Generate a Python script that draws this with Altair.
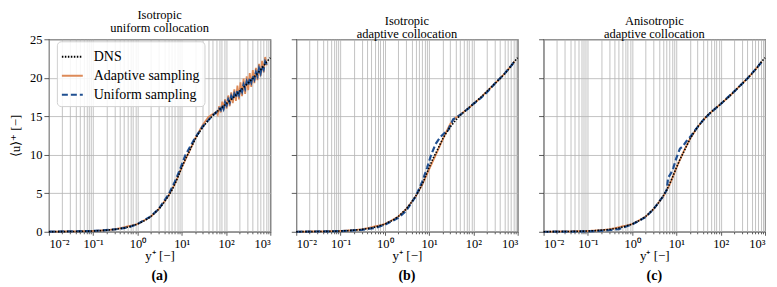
import altair as alt
import pandas as pd

SERIF = "Liberation Serif"

# ---------------- data ----------------
panels = ["a", "b", "c"]
panel_titles = [["Isotropic", "uniform collocation"],
                ["Isotropic", "adaptive collocation"],
                ["Anisotropic", "adaptive collocation"]]
panel_labels = ["(a)", "(b)", "(c)"]
series_names = ["DNS", "Adaptive sampling", "Uniform sampling"]
series_colors = ["#000000", "#dd8a58", "#1f4f91"]
series_dash = [[1.5, 1.5], [1, 0], [6, 3]]
x_major = [0.01, 0.1, 1, 10, 100, 1000]
x_major_labels = ["10⁻²", "10⁻¹", "10⁰", "10¹", "10²", "10³"]
y_ticks = [0, 5, 10, 15, 20, 25]

dns_y = [0.01, 0.015, 0.02, 0.03, 0.05, 0.07, 0.1, 0.15, 0.2, 0.3,
         0.5, 0.7, 1, 1.5, 2, 3, 4, 5, 6, 7,
         8, 10, 12, 15, 20, 25, 30, 40, 50, 70,
         100, 150, 200, 300, 400, 500, 600, 700, 800, 900, 1000]
dns_u = [0.01, 0.015, 0.02, 0.03, 0.05, 0.07, 0.1, 0.15, 0.2, 0.3,
         0.5, 0.7, 1.0, 1.49, 1.97, 2.92, 3.82, 4.65, 5.42, 6.2,
         6.95, 8.35, 9.4, 10.5, 12.0, 12.95, 13.6, 14.5, 15.1, 15.85,
         16.6, 17.5, 18.2, 19.2, 19.9, 20.5, 21.0, 21.5, 21.95, 22.3, 22.6]

# panel (a): isotropic, uniform collocation
p1_adapt_y = [0.01, 0.1, 0.3, 1, 2, 3, 5, 7, 10, 15, 20, 25, 30, 40, 50, 55,
              60, 65, 70, 76, 82, 88, 95, 103, 112, 121,
              131, 142, 154, 167, 181, 196, 212, 230, 249, 270,
              293, 317, 343, 372, 403, 437, 473, 513, 556, 602,
              652, 707, 766, 830]
p1_adapt_u = [0.01, 0.1, 0.3, 1.0, 1.97, 2.92, 4.65, 6.2, 8.35, 10.5, 12.1, 13.1, 13.9, 14.9, 15.3, 15.4,
              15.6, 15.2, 16.3, 15.5, 16.9, 15.8, 17.2, 16.0, 17.7, 16.3,
              18.1, 16.7, 18.5, 17.0, 19.0, 17.2, 19.4, 17.6, 19.9, 17.9,
              20.2, 18.4, 20.6, 18.8, 21.0, 19.3, 21.3, 19.7, 21.8, 20.2,
              22.2, 20.7, 22.7, 21.6]
p1_unif_y = [0.01, 0.1, 0.3, 0.6, 1, 2, 3, 5, 7, 9, 12, 15, 20, 25, 30, 40, 50, 60,
             70, 76, 82, 88, 95, 103, 112, 121, 131, 142,
             154, 167, 181, 196, 212, 230, 249, 270, 293, 317,
             343, 372, 403, 437, 473, 513, 556, 602, 652, 707,
             766, 830]
p1_unif_u = [0.01, 0.1, 0.3, 0.55, 1.0, 2.0, 2.95, 4.8, 6.5, 8.0, 9.9, 10.9, 12.2, 13.0, 13.7, 14.5, 15.1, 15.5,
             16.0, 15.8, 16.5, 16.0, 16.8, 16.4, 17.2, 16.8, 17.6, 17.1,
             17.9, 17.4, 18.3, 17.8, 18.7, 18.2, 19.1, 18.6, 19.5, 19.0,
             19.9, 19.4, 20.3, 19.8, 20.7, 20.2, 21.2, 20.6, 21.6, 21.1,
             22.1, 21.7]

# panel (b): isotropic, adaptive collocation
p2_adapt_y = [0.01, 0.1, 0.3, 1, 2, 3, 5, 7, 10, 15, 20, 25, 30, 35, 40, 50, 70,
              100, 150, 200, 300, 500, 700, 850]
p2_adapt_u = [0.01, 0.1, 0.3, 1.0, 1.95, 2.9, 4.6, 6.1, 8.1, 10.3, 11.9, 13.1, 14.0, 14.5, 14.8, 15.2, 15.85,
              16.6, 17.5, 18.2, 19.2, 20.5, 21.5, 22.1]
p2_unif_y = [0.01, 0.1, 0.3, 0.6, 1, 2, 3, 5, 7, 9, 11, 14, 18, 22, 27, 30, 35, 45, 60, 80,
             100, 150, 200, 300, 500, 700, 850]
p2_unif_u = [0.0, 0.08, 0.25, 0.5, 0.9, 1.8, 2.7, 4.6, 6.5, 8.3, 9.9, 11.4, 12.3, 12.8, 13.2, 13.8, 14.6, 15.0, 15.5, 16.1,
             16.6, 17.4, 18.1, 19.2, 20.5, 21.5, 22.1]

# panel (c): anisotropic, adaptive collocation
p3_adapt_y = [0.01, 0.1, 0.3, 1, 2, 3, 5, 7, 10, 15, 20, 30, 50, 70, 100, 150, 200, 300, 500, 700, 850]
p3_adapt_u = [0.01, 0.1, 0.3, 1.0, 1.95, 2.9, 4.55, 6.1, 8.3, 10.6, 12.0, 13.6, 15.1, 15.85, 16.6, 17.5, 18.2, 19.2,
              20.5, 21.5, 22.1]
p3_unif_y = [0.01, 0.1, 0.3, 0.5, 1, 2, 3, 5, 6, 6.5, 7.5, 8.5, 10, 12, 14, 17, 21, 25, 30, 40,
             60, 100, 200, 400, 700, 850]
p3_unif_u = [0.0, 0.05, 0.2, 0.35, 0.95, 1.9, 2.9, 4.6, 5.4, 7.0, 7.6, 8.3, 9.6, 10.8, 11.1, 11.8, 12.4, 13.0, 13.6, 14.5,
             15.5, 16.6, 18.2, 19.9, 21.5, 22.1]

# ---------------- table ----------------
rows = []


def add(panel, series, ys, us):
    for i, (a, b) in enumerate(zip(ys, us)):
        rows.append({"panel": panel, "series": series, "yp": a, "up": b, "ord": i})


for p in panels:
    add(p, "DNS", dns_y, dns_u)
add("a", "Adaptive sampling", p1_adapt_y, p1_adapt_u)
add("a", "Uniform sampling", p1_unif_y, p1_unif_u)
add("b", "Adaptive sampling", p2_adapt_y, p2_adapt_u)
add("b", "Uniform sampling", p2_unif_y, p2_unif_u)
add("c", "Adaptive sampling", p3_adapt_y, p3_adapt_u)
add("c", "Uniform sampling", p3_unif_y, p3_unif_u)
df = pd.DataFrame(rows)

# all log ticks (major + minor)
x_ticks = sorted(set([round(m * d, 6) for d in [0.01, 0.1, 1, 10, 100] for m in range(1, 10)] + [1000]))
label_expr = " : ".join(
    f"datum.value == {v} ? '{t}'" for v, t in zip(x_major, x_major_labels)
) + " : ''"
major_test = "indexof(" + str(x_major) + ", datum.value) >= 0"

W, H = 222, 193
strokes = {"DNS": 1.6, "Adaptive sampling": 1.8, "Uniform sampling": 2.2}
draw_order = ["Adaptive sampling", "Uniform sampling", "DNS"]


def panel_chart(i):
    p = panels[i]
    first = i == 0
    if first:
        leg = alt.Legend(orient="none", legendX=8, legendY=2, title=None,
                         symbolType="stroke", symbolSize=440, symbolStrokeWidth=2,
                         labelFont=SERIF, labelFontSize=14, labelColor="black",
                         labelOffset=10, rowPadding=-3, padding=4,
                         fillColor="rgba(255,255,255,0.85)", strokeColor="#d0d0d0",
                         cornerRadius=4)
    else:
        leg = None
    xaxis = alt.Axis(values=x_ticks, labelExpr=label_expr, labelOverlap=False, labelBound=False,
                     title="y⁺ [−]", titlePadding=0, labelPadding=2,
                     tickSize={"condition": {"test": major_test, "value": 3.5}, "value": 2})
    if first:
        yaxis = alt.Axis(values=y_ticks, title="⟨u⟩⁺ [−]", titlePadding=7, labelPadding=2)
    else:
        yaxis = alt.Axis(values=y_ticks, title=None, labels=False)
    base = alt.Chart(df).transform_filter(alt.datum.panel == p).encode(
        x=alt.X("yp:Q", scale=alt.Scale(type="log", domain=[0.01, 1000], nice=False), axis=xaxis),
        y=alt.Y("up:Q", scale=alt.Scale(domain=[0, 25], nice=False), axis=yaxis),
        color=alt.Color("series:N", scale=alt.Scale(domain=series_names, range=series_colors), legend=leg),
        strokeDash=alt.StrokeDash("series:N", scale=alt.Scale(domain=series_names, range=series_dash), legend=leg),
        order="ord:Q",
    )
    layers = [
        base.transform_filter(alt.datum.series == s).mark_line(strokeWidth=strokes[s], strokeCap="butt")
        for s in draw_order
    ]
    lab = alt.Chart(pd.DataFrame({"lab": [panel_labels[i]]})).mark_text(
        font=SERIF, fontSize=14, fontWeight="bold", color="black", baseline="middle"
    ).encode(x=alt.value(W / 2), y=alt.value(H + 44), text="lab:N")
    return alt.layer(*layers, lab).properties(
        width=W, height=H,
        title=alt.TitleParams(panel_titles[i], font=SERIF, fontSize=12.5, fontWeight="normal",
                              lineHeight=13, offset=-1.5, color="black", anchor="middle"),
    )


chart = alt.hconcat(*[panel_chart(i) for i in range(3)], spacing=26, bounds="flush").resolve_scale(
    color="independent", strokeDash="independent"
).resolve_legend(color="independent", strokeDash="independent").properties(
    padding={"left": 0, "top": 0, "right": 0, "bottom": 0}
).configure_axis(
    labelFont=SERIF, labelFontSize=12.5, labelColor="black",
    titleFont=SERIF, titleFontSize=13, titleFontWeight="normal", titleColor="black",
    gridColor="#b4b4b4", gridWidth=0.8, tickColor="#333333", tickWidth=0.8, domain=False,
).configure_view(stroke="#333333", strokeWidth=1.1)

chart.save("out.html", embed_options={"renderer": "svg", "actions": False})
